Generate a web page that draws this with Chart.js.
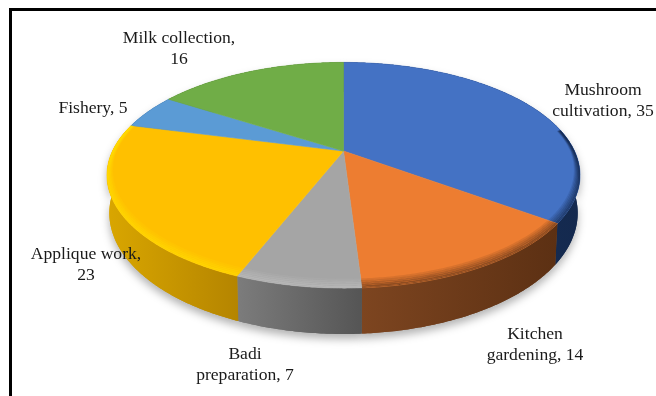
<!DOCTYPE html>
<html>
<head>
<meta charset="utf-8">
<style>
  html, body { margin: 0; padding: 0; background: #fff; overflow: hidden; }
  canvas { display: block; }
</style>
<script src="https://cdn.jsdelivr.net/npm/chart.js@4"></script>
</head>
<body>
<canvas id="pieChart" width="656" height="396"></canvas>
<script>
const categories = ['Mushroom cultivation', 'Kitchen gardening', 'Badi preparation', 'Applique work', 'Fishery', 'Milk collection'];
const values = [35, 14, 7, 23, 5, 16];
const firstLines = ['Mushroom', 'Kitchen', 'Badi', 'Applique work,', 'Fishery, 5', 'Milk collection,'];

// Styles
const topColors = ['#4472c4', '#ed7d31', '#a5a5a5', '#ffc000', '#5b9bd5', '#70ad47'];
const sideLeft = ['#1b3560', '#7d4520', '#7c7c7c', '#d9a600', '#2f5d8a', '#3f6b28'];
const sideRight = ['#14294e', '#5c3013', '#555555', '#b58500', '#2f5d8a', '#3f6b28'];
const rimColors = ['#14294e', '#62361a', '#bdbdbd', '#ffdc00', null, null];
const labelSpots = [[603, 95], [535, 339], [245, 359], [86, 259], [93, 113], [179, 43]];
const lineGap = 21;

// Perspective of the tilted disc
const tilt = 0.215;
const flatten = 0.466;
const depth = 36;

const project = (el, a, f = 1) => {
    const u = Math.cos(a) * f;
    const v = Math.sin(a) * f;
    const w = 1 - tilt * v;
    return [el.x + el.outerRadius * u / w, el.y + el.outerRadius * flatten * v / w, w];
};

const lower = (el, a) => {
    const p = project(el, a);
    return [el.x + (p[0] - el.x) * 0.99, p[1] + depth / p[2]];
};

const angleSteps = (start, end) => {
    const n = Math.max(2, Math.ceil((end - start) / 0.01));
    const out = [];
    for (let i = 0; i <= n; i++) out.push(start + (end - start) * i / n);
    return out;
};

class Arc3d extends Chart.ArcElement {
    static id = 'arc3d';

    sidePath(ctx) {
        const steps = angleSteps(this.startAngle, this.endAngle);
        ctx.beginPath();
        steps.forEach((a, i) => {
            const p = project(this, a);
            if (i === 0) ctx.moveTo(p[0], p[1]); else ctx.lineTo(p[0], p[1]);
        });
        steps.slice().reverse().forEach((a) => {
            const p = lower(this, a);
            ctx.lineTo(p[0], p[1]);
        });
        ctx.closePath();
    }

    topPath(ctx) {
        ctx.beginPath();
        ctx.moveTo(this.x, this.y);
        angleSteps(this.startAngle, this.endAngle).forEach((a) => {
            const p = project(this, a);
            ctx.lineTo(p[0], p[1]);
        });
        ctx.closePath();
    }

    drawSide(ctx, i) {
        const xs = angleSteps(this.startAngle, this.endAngle).map((a) => project(this, a)[0]);
        const g = ctx.createLinearGradient(Math.min(...xs), 0, Math.max(...xs), 0);
        g.addColorStop(0, sideLeft[i]);
        g.addColorStop(1, sideRight[i]);
        ctx.fillStyle = g;
        this.sidePath(ctx);
        ctx.fill();
    }

    drawRim(ctx, i) {
        if (!rimColors[i]) return;
        // Only the front of the rim catches the bevel, wider at the very front
        const start = Math.max(this.startAngle, -0.2);
        const end = Math.min(this.endAngle, Math.PI + 0.3);
        if (end <= start) return;
        ctx.save();
        this.topPath(ctx);
        ctx.clip();
        ctx.strokeStyle = rimColors[i];
        for (let k = 0; k < 6; k++) {
            ctx.globalAlpha = 0.8 - k * 0.13;
            ctx.lineWidth = 1.6;
            ctx.beginPath();
            angleSteps(start, end).forEach((a, n) => {
                const f = 1 - k * (0.003 + 0.007 * Math.max(0, Math.sin(a)));
                const p = project(this, a, f);
                if (n === 0) ctx.moveTo(p[0], p[1]); else ctx.lineTo(p[0], p[1]);
            });
            ctx.stroke();
        }
        ctx.restore();
    }

    draw(ctx) {
        ctx.fillStyle = this.options.backgroundColor;
        ctx.strokeStyle = this.options.backgroundColor;
        ctx.lineWidth = 0.6;
        this.topPath(ctx);
        ctx.fill();
        ctx.stroke();
    }
}

class Pie3d extends Chart.DoughnutController {
    static id = 'pie3d';
    static defaults = { ...Chart.DoughnutController.defaults, dataElementType: 'arc3d' };
    static overrides = Chart.DoughnutController.overrides;

    draw() {
        const ctx = this.chart.ctx;
        const arcs = this.getMeta().data;
        // Soft shadow under the disc first, then the clean sides over it
        ctx.save();
        ctx.shadowColor = 'rgba(0,0,0,0.3)';
        ctx.shadowBlur = 9;
        ctx.shadowOffsetY = 5;
        arcs.forEach((arc, i) => arc.drawSide(ctx, i));
        ctx.restore();
        arcs.forEach((arc, i) => arc.drawSide(ctx, i));
        arcs.forEach((arc) => arc.draw(ctx));
        arcs.forEach((arc, i) => arc.drawRim(ctx, i));
    }
}

Chart.register(Arc3d, Pie3d);

const framePlugin = {
    id: 'frame',
    beforeDraw(chart) {
        const ctx = chart.ctx;
        ctx.fillStyle = '#000';
        ctx.fillRect(9, 8, 647, 3);
        ctx.fillRect(9, 8, 3, 388);
    }
};

const labelPlugin = {
    id: 'sliceLabels',
    afterDraw(chart) {
        const ctx = chart.ctx;
        ctx.save();
        ctx.font = '17.6px "Liberation Serif"';
        ctx.fillStyle = '#1a1a1a';
        ctx.textAlign = 'center';
        ctx.textBaseline = 'alphabetic';
        categories.forEach((name, i) => {
            const full = `${name}, ${values[i]}`;
            const rest = full.slice(firstLines[i].length).trim();
            const [x, y] = labelSpots[i];
            ctx.fillText(firstLines[i], x, y);
            if (rest) ctx.fillText(rest, x, y + lineGap);
        });
        ctx.restore();
    }
};

new Chart(document.getElementById('pieChart').getContext('2d'), {
    type: 'pie3d',
    data: {
        labels: categories,
        datasets: [{
            data: values,
            backgroundColor: topColors,
            borderWidth: 0
        }]
    },
    options: {
        responsive: false,
        animation: false,
        cutout: 0,
        radius: 231,
        layout: { padding: { left: 31, right: 0, top: 0, bottom: 94 } },
        plugins: { legend: { display: false }, tooltip: { enabled: false } }
    },
    plugins: [framePlugin, labelPlugin]
});
</script>
</body>
</html>
